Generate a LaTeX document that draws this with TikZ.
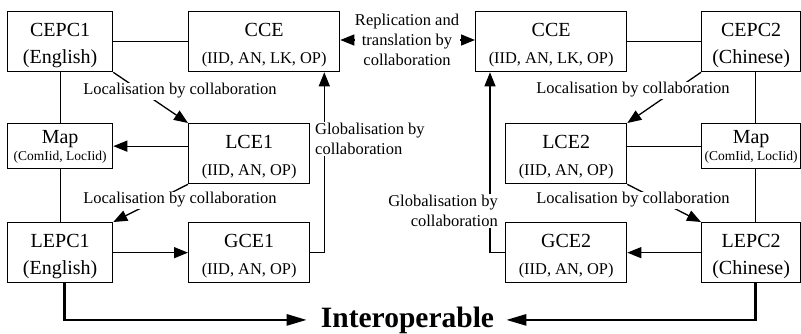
\documentclass[tikz,border=0pt]{standalone}
\usepackage{fontspec}
\setmainfont{Liberation Serif}
\usetikzlibrary{arrows.meta}

% box with a title line and a subtitle line
% #1 name, #2,#3 top-left, #4,#5 bottom-right, #6 title, #7 subtitle,
% #8 title style, #9 subtitle style
\newcommand\mkbox[9]{%
  \node[box, anchor=north west, minimum width={#4-#2}, minimum height={#5-#3}] (#1) at (#2,#3) {};
  \node[#8] (#1-t) at (#1.center) {#6};
  \node[#9] (#1-s) at (#1.center) {#7};
}

\begin{document}
\begin{tikzpicture}[x=1pt,y=-1pt,
  box/.style={draw, line width=1.3pt, inner sep=0pt},
  ttl/.style={anchor=base, inner sep=0pt, yshift=5pt, font=\fontsize{20}{24}\selectfont},
  sub/.style={anchor=base, inner sep=0pt, yshift=-22pt, font=\fontsize{16.4}{20}\selectfont},
  subbig/.style={anchor=base, inner sep=0pt, yshift=-21.5pt, font=\fontsize{20}{24}\selectfont},
  mapttl/.style={anchor=base, inner sep=0pt, yshift=2.5pt, font=\fontsize{20}{24}\selectfont},
  mapsub/.style={anchor=base, inner sep=0pt, yshift=-14.2pt, font=\fontsize{13.5}{16}\selectfont},
  lbl/.style={fill=white, inner sep=1pt, font=\fontsize{16.5}{20}\selectfont},
  link/.style={line width=1.3pt},
  arr/.style={line width=1.3pt, -{Triangle[length=14pt,width=11pt]}},
  iarr/.style={line width=2.5pt, -{Triangle[length=20pt,width=11pt]}},
]
\useasboundingbox[fill=white] (0,0) rectangle (801,333);

% English side
\mkbox{cepc1}{7}{11}{112}{71}{CEPC1}{(English)}{ttl}{subbig}
\mkbox{cce1}{188}{11}{339}{71}{CCE}{(IID, AN, LK, OP)}{ttl}{sub}
\mkbox{map1}{7}{123}{112}{168}{Map}{(ComIid, LocIid)}{mapttl}{mapsub}
\mkbox{lce1}{188}{123}{309}{183}{LCE1}{(IID, AN, OP)}{ttl}{sub}
\mkbox{lepc1}{7}{222}{112}{282}{LEPC1}{(English)}{ttl}{subbig}
\mkbox{gce1}{188}{222}{309}{282}{GCE1}{(IID, AN, OP)}{ttl}{sub}

% Chinese side
\mkbox{cce2}{475}{11}{626}{71}{CCE}{(IID, AN, LK, OP)}{ttl}{sub}
\mkbox{cepc2}{701}{11}{800}{71}{CEPC2}{(Chinese)}{ttl}{subbig}
\mkbox{lce2}{505}{123}{626}{183}{LCE2}{(IID, AN, OP)}{ttl}{sub}
\mkbox{map2}{701}{123}{800}{168}{Map}{(ComIid, LocIid)}{mapttl}{mapsub}
\mkbox{gce2}{505}{222}{626}{282}{GCE2}{(IID, AN, OP)}{ttl}{sub}
\mkbox{lepc2}{701}{222}{800}{282}{LEPC2}{(Chinese)}{ttl}{subbig}

% plain links
\draw[link] (cepc1) -- (cce1);
\draw[link] ([xshift=0.5pt]cepc1.south) -- ([xshift=0.5pt]map1.north);
\draw[link] ([xshift=0.5pt]map1.south) -- ([xshift=0.5pt]lepc1.north);
\draw[link] (cce2) -- (cepc2);
\draw[link] ([xshift=4.5pt]cepc2.south) -- ([xshift=4.5pt]map2.north);
\draw[link] ([xshift=4.5pt]map2.south) -- ([xshift=4.5pt]lepc2.north);
\draw[link] (lce2.east |- map2.west) -- (map2.west);

% arrows
\draw[arr] (lce1.west |- map1.east) -- (map1.east);
\draw[arr] (lepc1) -- (gce1);
\draw[arr] (lepc2) -- (gce2);
\draw[arr] (cepc1.south east) -- (lce1.north west);
\draw[arr] (lce1.south west) -- (lepc1.north east);
\draw[arr] (cepc2.south west) -- (lce2.north east);
\draw[arr] (lce2.south east) -- (lepc2.north west);

\path (gce1.east) ++(14,0) coordinate (g1);
\draw[arr] (gce1.east) -- (g1) -- (g1 |- cce1.south);
\path (gce2.west) ++(-15,0) coordinate (g2);
\draw[arr] (gce2.west) -- (g2) -- (g2 |- cce2.south);

% labels on the connectors
\node[lbl] (loc1) at (180,91) {Localisation by collaboration};
\node[lbl] (loc2) at (180,200) {Localisation by collaboration};
\node[lbl] (loc3) at (633,90) {Localisation by collaboration};
\node[lbl] (loc4) at (633,200) {Localisation by collaboration};
\node[lbl, align=left, anchor=west] (glob1) at (314,139) {Globalisation by\\collaboration};
\node[lbl, align=right, anchor=east] (glob2) at (499,211) {Globalisation by\\collaboration};

\node[lbl, align=center] (rep) at (407,40) {Replication and\\translation by\\collaboration};
\draw[arr] (rep.west) -- (rep.west -| cce1.east);
\draw[arr] (rep.east) -- (rep.east -| cce2.west);

% interoperability
\node[inner sep=0pt, anchor=base, font=\bfseries\fontsize{29.5}{30}\selectfont] (inter) at (407.5,327) {Interoperable};
\draw[iarr, shorten >=14pt] ([xshift=4.5pt]lepc1.south) |- (inter.west);
\draw[iarr, shorten >=12pt] ([xshift=4.5pt]lepc2.south) |- (inter.east);
\end{tikzpicture}
\end{document}
